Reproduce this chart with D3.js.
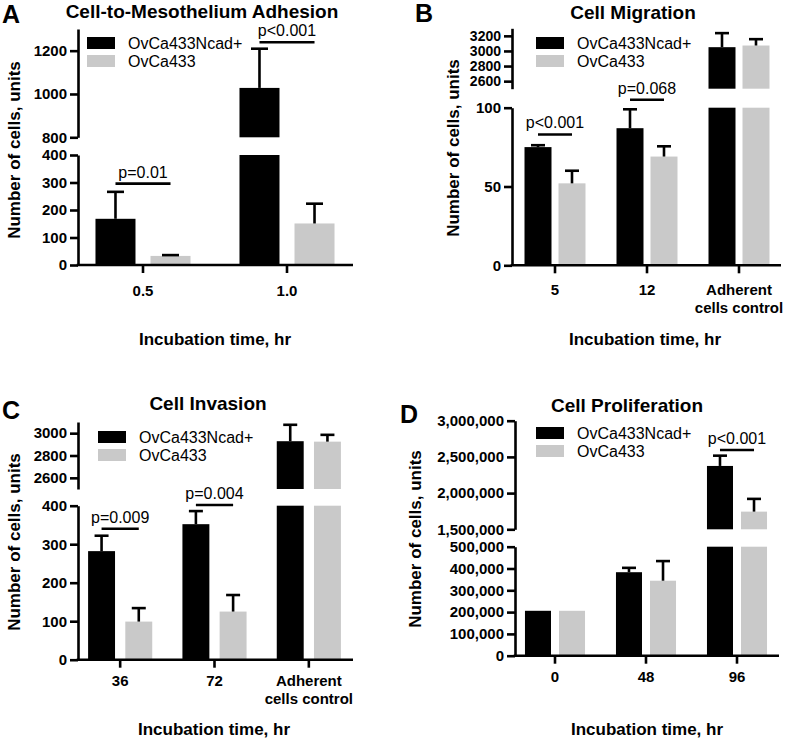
<!DOCTYPE html>
<html>
<head>
<meta charset="utf-8">
<script src="https://cdn.jsdelivr.net/npm/d3@7"></script>
<style>
  html, body { margin: 0; padding: 0; background: #fff; }
  svg { display: block; }
  text { font-family: "Liberation Sans", Arial, Helvetica, sans-serif; fill: #000; }
</style>
</head>
<body>
<svg id="chart" width="788" height="743"></svg>
<script>
// ---------------- DATA ----------------
const seriesNames = ["OvCa433Ncad+", "OvCa433"];

// Panel A: Cell-to-Mesothelium Adhesion
const adhesionCategories = ["0.5", "1.0"];
const adhesionNcad = [168, 1028];
const adhesionNcadErr = [98, 181];
const adhesionOvca = [33, 151];
const adhesionOvcaErr = [3, 72];
const adhesionLowTicks = [0, 100, 200, 300, 400];
const adhesionUpTicks = [800, 1000, 1200];
const adhesionPvalues = [
  { cat: "0.5", y: 296, seg: "low", label: "p=0.01" },
  { cat: "1.0", y: 1239, seg: "up", label: "p<0.001" }
];

// Panel B: Cell Migration
const migrationCategories = ["5", "12", "Adherent\ncells control"];
const migrationNcad = [75, 87, 3050];
const migrationNcadErr = [1.2, 12, 186];
const migrationOvca = [52, 69, 3072];
const migrationOvcaErr = [8, 6.5, 84];
const migrationLowTicks = [0, 50, 100];
const migrationUpTicks = [2600, 2800, 3000, 3200];
const migrationPvalues = [
  { cat: "5", y: 83, seg: "low", label: "p<0.001" },
  { cat: "12", y: 105, seg: "low", label: "p=0.068" }
];

// Panel C: Cell Invasion
const invasionCategories = ["36", "72", "Adherent\ncells control"];
const invasionNcad = [282, 352, 2928];
const invasionNcadErr = [40, 34, 147];
const invasionOvca = [99, 125, 2924];
const invasionOvcaErr = [35, 43, 61];
const invasionLowTicks = [0, 100, 200, 300, 400];
const invasionUpTicks = [2600, 2800, 3000];
const invasionPvalues = [
  { cat: "36", y: 340, seg: "low", label: "p=0.009" },
  { cat: "72", y: 402, seg: "low", label: "p=0.004" }
];

// Panel D: Cell Proliferation
const proliferationCategories = ["0", "48", "96"];
const proliferationNcad = [206000, 383000, 2375000];
const proliferationNcadErr = [0, 20000, 142000];
const proliferationOvca = [206000, 344000, 1744000];
const proliferationOvcaErr = [0, 90000, 176000];
const proliferationLowTicks = [0, 100000, 200000, 300000, 400000, 500000];
const proliferationUpTicks = [1500000, 2000000, 2500000, 3000000];
const proliferationPvalues = [
  { cat: "96", y: 2596000, seg: "up", label: "p<0.001" }
];

// ---------------- LAYOUT ----------------
const FONT = '"Liberation Sans", Arial, Helvetica, sans-serif';
const BLACK = "#000000";
const GRAY = "#c9c9c9";
const colors = [BLACK, GRAY];

const panels = [
  {
    letter: "A", letterX: 2, letterY: 23,
    title: "Cell-to-Mesothelium Adhesion", titleX: 202, titleY: 18,
    cats: adhesionCategories, vals: [adhesionNcad, adhesionOvca], errs: [adhesionNcadErr, adhesionOvcaErr],
    lowTicks: adhesionLowTicks, upTicks: adhesionUpTicks, pvals: adhesionPvalues,
    lowDomain: [0, 400], lowRange: [265, 155],
    upDomain: [800, 1300], upRange: [137.3, 29],
    axisX: 78, axisEnd: 353, xRange: [71, 359], padIn: 0.34, barGap: 0.273, capW: 17,
    tickLabelPad: 12, fmt: d3.format("d"), upTickFont: 15,
    legendX: 87, legendY: 37,
    yLabelX: 20, yLabelY: 150,
    xTitleX: 215, xTitleY: 345
  },
  {
    letter: "B", letterX: 415, letterY: 22,
    title: "Cell Migration", titleX: 633, titleY: 19,
    cats: migrationCategories, vals: [migrationNcad, migrationOvca], errs: [migrationNcadErr, migrationOvcaErr],
    lowTicks: migrationLowTicks, upTicks: migrationUpTicks, pvals: migrationPvalues,
    lowDomain: [0, 100], lowRange: [265.3, 107.7],
    upDomain: [2500, 3300], upRange: [88.7, 28.3],
    axisX: 512, axisEnd: 781, xRange: [509, 785], padIn: 0.337, barGap: 0.206, capW: 14,
    tickLabelPad: 11, fmt: d3.format("d"), upTickFont: 14,
    legendX: 536, legendY: 37,
    yLabelX: 459, yLabelY: 148,
    xTitleX: 645, xTitleY: 345
  },
  {
    letter: "C", letterX: 2, letterY: 419,
    title: "Cell Invasion", titleX: 208, titleY: 410,
    cats: invasionCategories, vals: [invasionNcad, invasionOvca], errs: [invasionNcadErr, invasionOvcaErr],
    lowTicks: invasionLowTicks, upTicks: invasionUpTicks, pvals: invasionPvalues,
    lowDomain: [0, 400], lowRange: [659.7, 505.7],
    upDomain: [2500, 3100], upRange: [489, 422],
    axisX: 78, axisEnd: 353, xRange: [73, 356], padIn: 0.32, barGap: 0.276, capW: 14,
    tickLabelPad: 8, fmt: d3.format("d"), upTickFont: 15,
    legendX: 98, legendY: 431,
    yLabelX: 20, yLabelY: 542,
    xTitleX: 214, xTitleY: 735
  },
  {
    letter: "D", letterX: 400, letterY: 423,
    title: "Cell Proliferation", titleX: 627, titleY: 412,
    cats: proliferationCategories, vals: [proliferationNcad, proliferationOvca], errs: [proliferationNcadErr, proliferationOvcaErr],
    lowTicks: proliferationLowTicks, upTicks: proliferationUpTicks, pvals: proliferationPvalues,
    lowDomain: [0, 500000], lowRange: [655.7, 546.7],
    upDomain: [1500000, 3000000], upRange: [529.3, 420.7],
    axisX: 515, axisEnd: 779, xRange: [509.5, 782.5], padIn: 0.34, barGap: 0.235, capW: 14,
    tickLabelPad: 8, fmt: d3.format(","), upTickFont: 15,
    legendX: 536, legendY: 427,
    yLabelX: 421, yLabelY: 539,
    xTitleX: 647, xTitleY: 735
  }
];

const svg = d3.select("#chart");

function drawPanel(P) {
  const g = svg.append("g");
  const x0 = d3.scaleBand().domain(P.cats).range(P.xRange)
    .paddingInner(P.padIn).paddingOuter(P.padIn / 2);
  const x1 = d3.scaleBand().domain([0, 1]).range([0, x0.bandwidth()])
    .paddingInner(P.barGap).paddingOuter(0);
  const yLow = d3.scaleLinear().domain(P.lowDomain).range(P.lowRange);
  const yUp = d3.scaleLinear().domain(P.upDomain).range(P.upRange);
  const lowMax = P.lowDomain[1], upMin = P.upDomain[0];

  // Bars
  P.cats.forEach((c, i) => {
    [0, 1].forEach(s => {
      const v = P.vals[s][i];
      const bx = x0(c) + x1(s);
      const bw = x1.bandwidth();
      if (v <= lowMax) {
        g.append("rect").attr("x", bx).attr("width", bw)
          .attr("y", yLow(v)).attr("height", yLow(0) - yLow(v)).attr("fill", colors[s]);
      } else {
        g.append("rect").attr("x", bx).attr("width", bw)
          .attr("y", yLow(lowMax)).attr("height", yLow(0) - yLow(lowMax)).attr("fill", colors[s]);
        g.append("rect").attr("x", bx).attr("width", bw)
          .attr("y", yUp(v)).attr("height", yUp(upMin) - yUp(v)).attr("fill", colors[s]);
      }
      const e = P.errs[s][i];
      if (e > 0) {
        const ys = v <= lowMax ? yLow : yUp;
        const cx = bx + bw / 2;
        g.append("line").attr("x1", cx).attr("x2", cx)
          .attr("y1", ys(v)).attr("y2", ys(v + e))
          .attr("stroke", BLACK).attr("stroke-width", 2.6);
        g.append("line").attr("x1", cx - P.capW / 2).attr("x2", cx + P.capW / 2)
          .attr("y1", ys(v + e)).attr("y2", ys(v + e))
          .attr("stroke", BLACK).attr("stroke-width", 2.6);
      }
    });
  });

  // Y axes (broken)
  const styleAxis = (sel, fs) => {
    sel.selectAll("path, line").attr("stroke", BLACK).attr("stroke-width", 2.6);
    sel.selectAll("text").attr("font-family", FONT).attr("font-size", fs || 15)
      .attr("font-weight", "bold").attr("fill", BLACK);
  };
  g.append("g").attr("transform", `translate(${P.axisX},0)`)
    .call(d3.axisLeft(yLow).tickValues(P.lowTicks).tickSize(8).tickSizeOuter(0)
      .tickPadding(3).tickFormat(P.fmt))
    .call(styleAxis, 15);
  g.append("g").attr("transform", `translate(${P.axisX},0)`)
    .call(d3.axisLeft(yUp).tickValues(P.upTicks).tickSize(8).tickSizeOuter(0)
      .tickPadding(3).tickFormat(P.fmt))
    .call(styleAxis, P.upTickFont);

  // X axis
  const xa = g.append("g").attr("transform", `translate(0,${P.lowRange[0]})`)
    .call(d3.axisBottom(x0).tickSize(8).tickSizeOuter(0).tickPadding(P.tickLabelPad))
    .call(styleAxis, 15);
  xa.select(".domain").attr("d", `M${P.axisX - 1.3},0H${P.axisEnd}`);
  xa.selectAll(".tick text").each(function(d) {
    const parts = String(d).split("\n");
    if (parts.length > 1) {
      const t = d3.select(this);
      t.text(null);
      parts.forEach((p, k) => {
        t.append("tspan").attr("x", 0).attr("dy", k === 0 ? "0.71em" : "1.2em").text(p);
      });
    }
  });

  // p-value annotations
  P.pvals.forEach(pv => {
    const ys = pv.seg === "low" ? yLow : yUp;
    const xa1 = x0(pv.cat) + x1(0) + x1.bandwidth() / 2;
    const xa2 = x0(pv.cat) + x1(1) + x1.bandwidth() / 2;
    const yy = ys(pv.y);
    g.append("line").attr("x1", xa1).attr("x2", xa2).attr("y1", yy).attr("y2", yy)
      .attr("stroke", BLACK).attr("stroke-width", 2.6);
    g.append("text").attr("x", (xa1 + xa2) / 2).attr("y", yy - 6)
      .attr("text-anchor", "middle").attr("font-size", 16).text(pv.label);
  });

  // Legend
  seriesNames.forEach((n, k) => {
    g.append("rect").attr("x", P.legendX).attr("y", P.legendY + k * 18)
      .attr("width", 28).attr("height", 12).attr("fill", colors[k]);
    g.append("text").attr("x", P.legendX + 41).attr("y", P.legendY + k * 18 + 12)
      .attr("font-size", 16).text(n);
  });

  // Titles and labels
  g.append("text").attr("x", P.titleX).attr("y", P.titleY).attr("text-anchor", "middle")
    .attr("font-size", 19).attr("font-weight", "bold").text(P.title);
  g.append("text").attr("x", P.letterX).attr("y", P.letterY)
    .attr("font-size", 25).attr("font-weight", "bold").text(P.letter);
  g.append("text").attr("transform", `translate(${P.yLabelX},${P.yLabelY}) rotate(-90)`)
    .attr("text-anchor", "middle").attr("font-size", 17).attr("font-weight", "bold")
    .text("Number of cells, units");
  g.append("text").attr("x", P.xTitleX).attr("y", P.xTitleY).attr("text-anchor", "middle")
    .attr("font-size", 17).attr("font-weight", "bold").text("Incubation time, hr");
}

panels.forEach(drawPanel);
</script>
</body>
</html>
